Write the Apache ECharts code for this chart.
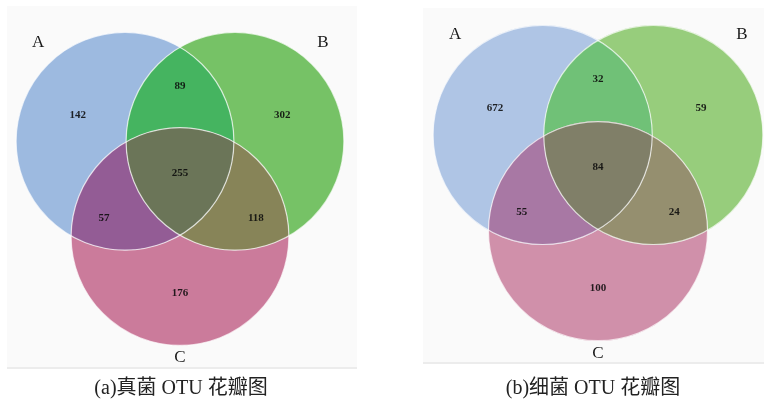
<!DOCTYPE html>
<html><head><meta charset="utf-8">
<script src="https://cdn.jsdelivr.net/npm/echarts@6/dist/echarts.min.js"></script>
<style>html,body{margin:0;padding:0;background:#fff}#c{width:764px;height:406px}</style>
</head><body><div id="c"></div>
<script>
// ---- data ----
const setNames = ['A', 'B', 'C'];
const regionKeys = ['A', 'B', 'C', 'AB', 'AC', 'BC', 'ABC'];
const fungiCounts = [142, 302, 176, 89, 57, 118, 255];
const bacteriaCounts = [672, 59, 100, 32, 55, 24, 84];
const captions = ['(a)真菌 OTU 花瓣图', '(b)细菌 OTU 花瓣图'];

// ---- layout (unit Venn geometry, centroid at origin) ----
const CENTERS = {A: [-0.5, 0.2887], B: [0.5, 0.2887], C: [0, -0.5774]};
const RADIUS = 0.99;
const REGION_LABEL_POS = {A: [-0.93, 0.53], B: [0.93, 0.53], C: [0, -1.09], AB: [0, 0.79], AC: [-0.69, -0.41], BC: [0.69, -0.41], ABC: [0, 0]};
const SET_LABEL_POS = {A: [-1.29, 1.19], B: [1.30, 1.19], C: [0, -1.68]};
const PALETTES = [
  {A: '#9dbae0', B: '#76c266', C: '#cb7b9b', AB: '#45b460', AC: '#935c95', BC: '#878458', ABC: '#6b7558'},
  {A: '#afc5e5', B: '#97cd7c', C: '#d090aa', AB: '#70c177', AC: '#a878a4', BC: '#958f6f', ABC: '#807f68'}
];
const G = [0, 0];

function intersect(c1, c2, r) {
  const dx = c2[0] - c1[0], dy = c2[1] - c1[1], d = Math.hypot(dx, dy);
  const a = d / 2, h = Math.sqrt(Math.max(r * r - a * a, 0));
  const mx = c1[0] + dx / 2, my = c1[1] + dy / 2;
  return [[mx - h * dy / d, my + h * dx / d], [mx + h * dy / d, my - h * dx / d]];
}
const P = {};
[['A', 'B', 'C'], ['A', 'C', 'B'], ['B', 'C', 'A']].forEach(([i, j, k]) => {
  const [p, q] = intersect(CENTERS[i], CENTERS[j], RADIUS);
  const dp = Math.hypot(p[0] - CENTERS[k][0], p[1] - CENTERS[k][1]);
  const dq = Math.hypot(q[0] - CENTERS[k][0], q[1] - CENTERS[k][1]);
  P['I' + i + j] = dp < dq ? p : q;
  P['O' + i + j] = dp < dq ? q : p;
});
function arc(circle, p0, p1, outer) {
  const c = CENTERS[circle];
  const a0 = Math.atan2(p0[1] - c[1], p0[0] - c[0]);
  const a1 = Math.atan2(p1[1] - c[1], p1[0] - c[0]);
  let d = a1 - a0;
  while (d > Math.PI) d -= 2 * Math.PI;
  while (d <= -Math.PI) d += 2 * Math.PI;
  if (outer) {
    const alt = d > 0 ? d - 2 * Math.PI : d + 2 * Math.PI;
    const f = m => Math.hypot(c[0] + RADIUS * Math.cos(m) - G[0], c[1] + RADIUS * Math.sin(m) - G[1]);
    if (f(a0 + alt / 2) > f(a0 + d / 2)) d = alt;
  }
  const n = Math.max(8, Math.ceil(Math.abs(d) / 0.02));
  const out = [];
  for (let s = 0; s < n; s++) {
    const t = a0 + d * s / n;
    out.push([c[0] + RADIUS * Math.cos(t), c[1] + RADIUS * Math.sin(t)]);
  }
  return out;
}
const REGION_DEF = {
  ABC: [['C', 'IBC', 'IAC'], ['A', 'IAC', 'IAB'], ['B', 'IAB', 'IBC']],
  AB: [['B', 'OAB', 'IBC'], ['C', 'IBC', 'IAC'], ['A', 'IAC', 'OAB']],
  AC: [['C', 'OAC', 'IBC'], ['B', 'IBC', 'IAB'], ['A', 'IAB', 'OAC']],
  BC: [['C', 'OBC', 'IAC'], ['A', 'IAC', 'IAB'], ['B', 'IAB', 'OBC']],
  A: [['A', 'OAB', 'OAC', 1], ['C', 'OAC', 'IBC'], ['B', 'IBC', 'OAB']],
  B: [['B', 'OAB', 'OBC', 1], ['C', 'OBC', 'IAC'], ['A', 'IAC', 'OAB']],
  C: [['C', 'OAC', 'OBC', 1], ['B', 'OBC', 'IAB'], ['A', 'IAB', 'OAC']]
};
const REGION_PTS = {};
Object.keys(REGION_DEF).forEach(k => {
  REGION_PTS[k] = [].concat(...REGION_DEF[k].map(([c, a, b, o]) => arc(c, P[a], P[b], !!o)));
});

const NUM_FONT = '"Liberation Serif", "DejaVu Serif", serif';
function regionSeries(p, counts) {
  return {
    type: 'custom', coordinateSystem: 'cartesian2d', xAxisIndex: p, yAxisIndex: p, clip: false, z: 2,
    data: regionKeys.map((k, i) => ({name: k, value: [REGION_LABEL_POS[k][0], REGION_LABEL_POS[k][1], counts[i]]})),
    renderItem(params, api) {
      const k = regionKeys[params.dataIndex];
      const poly = REGION_PTS[k].map(pt => api.coord(pt));
      const lp = api.coord([api.value(0), api.value(1)]);
      return {type: 'group', children: [
        {type: 'polygon', shape: {points: poly}, style: {fill: PALETTES[p][k]}},
        {type: 'text', x: lp[0], y: lp[1], z2: 10, style: {text: String(api.value(2)), x: 0, y: 0, align: 'center', verticalAlign: 'middle',
          fontFamily: NUM_FONT, fontWeight: 'bold', fontSize: 11, fill: 'rgba(10,10,10,0.88)'}}
      ]};
    }
  };
}
function outlineSeries(p) {
  return {
    type: 'custom', coordinateSystem: 'cartesian2d', xAxisIndex: p, yAxisIndex: p, clip: false, z: 3,
    data: setNames.map(k => ({name: k, value: [SET_LABEL_POS[k][0], SET_LABEL_POS[k][1]]})),
    renderItem(params, api) {
      const k = setNames[params.dataIndex];
      const c = api.coord(CENTERS[k]);
      const r = api.size([RADIUS, 0])[0];
      const lp = api.coord([api.value(0), api.value(1)]);
      return {type: 'group', children: [
        {type: 'circle', shape: {cx: c[0], cy: c[1], r: r}, style: {fill: 'none', stroke: 'rgba(255,255,255,0.7)', lineWidth: 1.2}},
        {type: 'text', x: lp[0], y: lp[1], style: {text: k, x: 0, y: 0, align: 'center', verticalAlign: 'middle',
          fontFamily: NUM_FONT, fontSize: 17, fill: '#1a1a1a'}}
      ]};
    }
  };
}

const chart = echarts.init(document.getElementById('c'), null, {renderer: 'canvas'});
const ax = {type: 'value', min: -1.5, max: 1.5, show: false};
const CAP_FONT = '"Liberation Serif", "Noto Sans CJK SC", serif';
chart.setOption({
  animation: false,
  backgroundColor: '#ffffff',
  grid: [
    {left: 15, top: 8, width: 330, height: 330},
    {left: 432, top: 0.5, width: 333, height: 333}
  ],
  xAxis: [Object.assign({gridIndex: 0}, ax), Object.assign({gridIndex: 1}, ax)],
  yAxis: [Object.assign({gridIndex: 0}, ax), Object.assign({gridIndex: 1}, ax)],
  graphic: [
    {type: 'rect', z: -10, shape: {x: 7, y: 6, width: 350, height: 363}, style: {fill: '#fafafa'}},
    {type: 'rect', z: -9, shape: {x: 7, y: 367, width: 350, height: 2}, style: {fill: '#ececec'}},
    {type: 'rect', z: -10, shape: {x: 423, y: 8, width: 341, height: 356}, style: {fill: '#fafafa'}},
    {type: 'rect', z: -9, shape: {x: 423, y: 362, width: 341, height: 2}, style: {fill: '#ececec'}},
    {type: 'text', x: 181, y: 389, style: {text: captions[0], align: 'center', verticalAlign: 'middle',
      fontFamily: CAP_FONT, fontSize: 20, fill: '#222'}},
    {type: 'text', x: 593, y: 389, style: {text: captions[1], align: 'center', verticalAlign: 'middle',
      fontFamily: CAP_FONT, fontSize: 20, fill: '#222'}}
  ],
  series: [regionSeries(0, fungiCounts), outlineSeries(0), regionSeries(1, bacteriaCounts), outlineSeries(1)]
});
</script></body></html>
